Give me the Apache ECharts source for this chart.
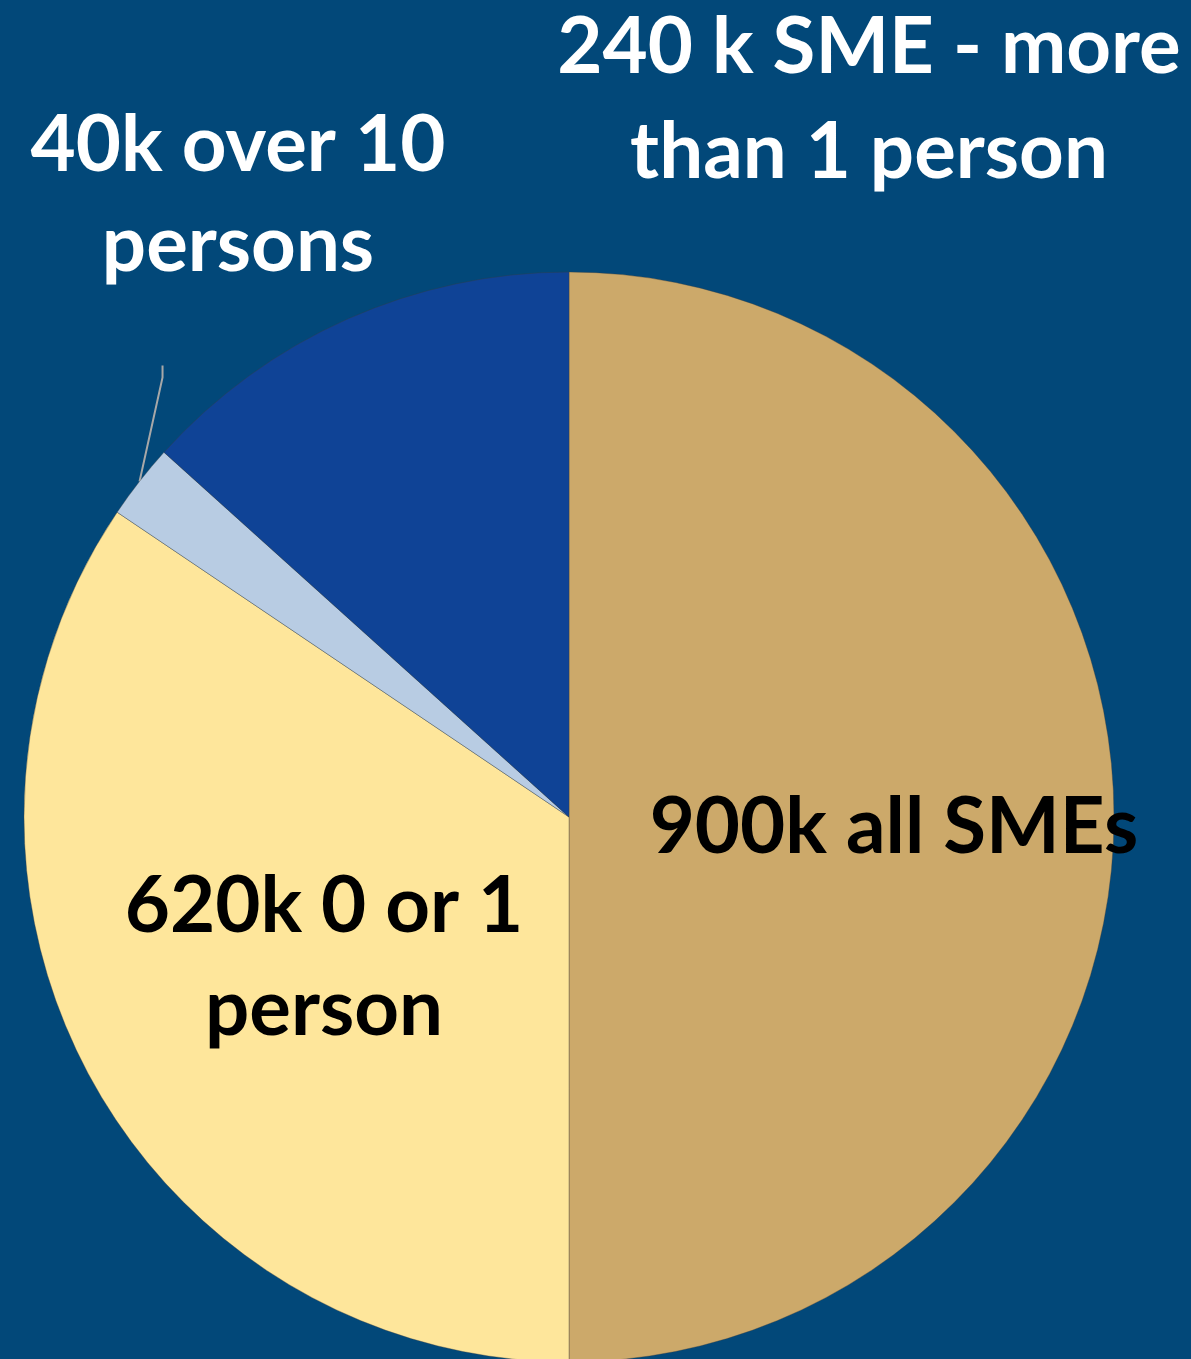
<!DOCTYPE html>
<html>
<head>
<meta charset="utf-8">
<title>SMEs by size</title>
<script src="https://cdn.jsdelivr.net/npm/echarts@6/dist/echarts.min.js"></script>
<style>
  html, body { margin: 0; padding: 0; background: #024879; }
  #chart { width: 1191px; height: 1359px; }
</style>
</head>
<body>
<div id="chart"></div>
<script>
// Segments, listed clockwise from 12 o'clock
const categories = ['900k all SMEs', '620k 0 or 1\nperson', '40k over 10\npersons', '240 k SME - more\nthan 1 person'];
const values = [900, 620, 40, 240];
const colors = ['#CCA96A', '#FEE69B', '#B8CCE3', '#0F4396'];
const labelColors = ['#000000', '#000000', '#FFFFFF', '#FFFFFF'];
const labelInside = [true, true, false, false];

// Where each label's block is centred, and its line spacing
const labelCenters = [[894, 828], [324, 958], [238, 196], [869, 100]];
const labelLineHeights = [94, 103, 100, 105];

const chart = echarts.init(document.getElementById('chart'), null, { renderer: 'canvas' });

const data = categories.map((name, i) => ({
  name: name,
  value: values[i],
  itemStyle: { color: colors[i] },
  label: {
    position: labelInside[i] ? 'inside' : 'outside',
    color: labelColors[i],
    lineHeight: labelLineHeights[i]
  },
  labelLine: { show: i === 2 }
}));

chart.setOption({
  backgroundColor: '#024879',
  animation: false,
  series: [{
    type: 'pie',
    center: [569, 817],
    radius: 545,
    startAngle: 90,
    clockwise: true,
    avoidLabelOverlap: false,
    itemStyle: { borderColor: 'rgba(60,60,60,0.35)', borderWidth: 1 },
    label: {
      show: true,
      formatter: '{b}',
      fontFamily: 'Lato',
      fontWeight: 'bold',
      fontSize: 78,
      align: 'center'
    },
    labelLine: {
      lineStyle: { color: '#A8A8A8', width: 2 }
    },
    labelLayout: function (params) {
      const i = params.dataIndex;
      const out = {
        x: labelCenters[i][0],
        y: labelCenters[i][1],
        align: 'center',
        verticalAlign: 'middle'
      };
      if (i === 2 && params.labelLinePoints) {
        // leader rises from the slice edge towards the label
        const p0 = params.labelLinePoints[0];
        out.labelLinePoints = [
          [p0[0], p0[1]],
          [p0[0] + 23, p0[1] - 104],
          [p0[0] + 23, p0[1] - 116]
        ];
      }
      return out;
    },
    data: data
  }]
});
</script>
</body>
</html>
